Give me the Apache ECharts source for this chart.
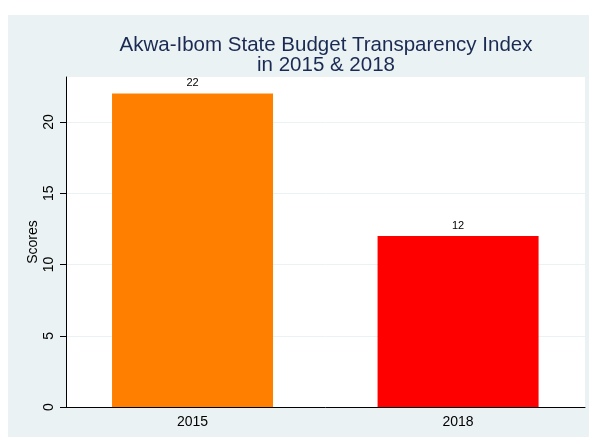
<!DOCTYPE html>
<html>
<head>
<meta charset="utf-8">
<script src="https://cdn.jsdelivr.net/npm/echarts@6/dist/echarts.min.js"></script>
<style>
html,body{margin:0;padding:0;background:#fff;}
#c{width:589px;height:437px;}
</style>
</head>
<body>
<div id="c"></div>
<script>
const categories = ['2015', '2018'];
const scores = [22, 12];
const barColors = ['#ff8000', '#ff0000'];
const yTicks = [0, 5, 10, 15, 20];
const titleLines = ['Akwa-Ibom State Budget Transparency Index', 'in 2015 & 2018'];

const positions = categories.map((c, i) => i + 1);
const chart = echarts.init(document.getElementById('c'), null, {renderer: 'canvas'});
const font = '"Liberation Sans", Arial, Helvetica, sans-serif';
chart.setOption({
  backgroundColor: '#ffffff',
  animation: false,
  graphic: [{
    type: 'rect', z: -10, silent: true,
    shape: {x: 8, y: 15, width: 581, height: 422},
    style: {fill: '#eaf2f3'}
  }, {
    type: 'rect', z: -9, silent: true,
    shape: {x: 66, y: 77, width: 519, height: 330},
    style: {fill: '#ffffff'}
  }],
  title: {
    text: titleLines.join('\n'),
    left: 321, top: 30, textAlign: 'center',
    textStyle: {fontFamily: font, fontSize: 20.5, fontWeight: 'normal', color: '#1a2a52', lineHeight: 20}
  },
  grid: {left: 66, right: 4, top: 77, bottom: 30, containLabel: false},
  xAxis: {
    type: 'value', min: 0.5235, max: 2.478,
    axisLine: {show: true, onZero: false, lineStyle: {color: '#000', width: 1}},
    axisTick: {show: false},
    axisLabel: {customValues: positions, formatter: v => categories[Math.round(v) - 1] || '',
      fontFamily: font, fontSize: 14, color: '#000', margin: 8},
    splitLine: {show: false}
  },
  yAxis: {
    type: 'value', min: 0, max: 23.16,
    name: 'Scores', nameLocation: 'middle', nameGap: 26, nameRotate: 90, nameMoveOverlap: false,
    nameTextStyle: {fontFamily: font, fontSize: 14, color: '#000'},
    axisLine: {show: true, lineStyle: {color: '#000', width: 1}},
    axisTick: {show: true, length: 6, customValues: yTicks, lineStyle: {color: '#000'}},
    axisLabel: {customValues: yTicks, rotate: 90, fontFamily: font, fontSize: 14, color: '#000', margin: 10},
    splitLine: {show: true, lineStyle: {color: '#eaf2f3', width: 1}}
  },
  series: [{
    type: 'bar',
    barWidth: 161,
    data: scores.map((v, i) => ({value: [positions[i], v], itemStyle: {color: barColors[i]}})),
    label: {show: true, position: 'top', distance: 5, fontFamily: font, fontSize: 11, color: '#000',
      formatter: p => p.value[1]}
  }]
});
</script>
</body>
</html>
